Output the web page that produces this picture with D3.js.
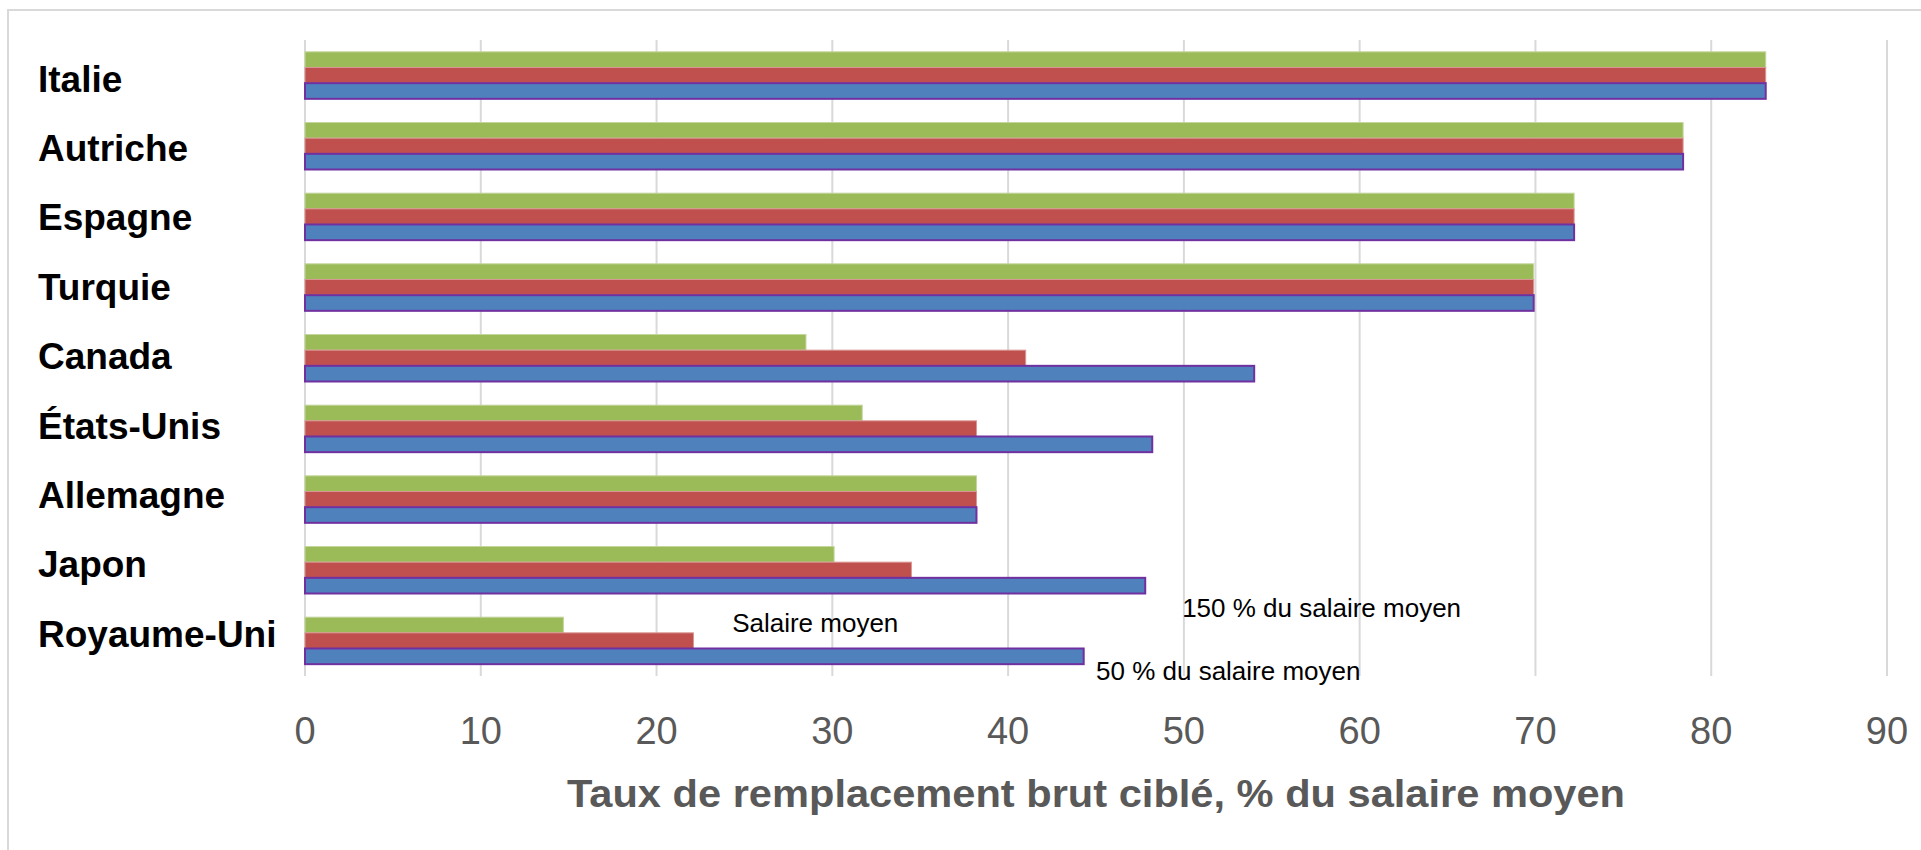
<!DOCTYPE html>
<html lang="fr">
<head>
<meta charset="utf-8">
<style type="text/css">
body { margin: 0; background: #fff; }
svg { display: block; font-family: "Liberation Sans", Arial, sans-serif; }
.grid line { stroke: #d9d9d9; stroke-width: 2px; }
.tick-label { fill: #595959; font-size: 38px; }
.cat-label { fill: #000; font-size: 37px; font-weight: bold; }
.note { fill: #000; font-size: 26px; }
</style>
</head>
<body>
<svg width="1921" height="850"></svg>

<script src="https://d3js.org/d3.v7.min.js"></script>
<script type="text/javascript">
// pays, du haut vers le bas
var countries = ["Italie", "Autriche", "Espagne", "Turquie", "Canada", "États-Unis", "Allemagne", "Japon", "Royaume-Uni"];
// taux de remplacement brut, % du salaire moyen
var taux150 = [83.1, 78.4, 72.2, 69.9, 28.5, 31.7, 38.2, 30.1, 14.7];
var taux100 = [83.1, 78.4, 72.2, 69.9, 41.0, 38.2, 38.2, 34.5, 22.1];
var taux50  = [83.1, 78.4, 72.2, 69.9, 54.0, 48.2, 38.2, 47.8, 44.3];
var seriesNames = ["150 % du salaire moyen", "Salaire moyen", "50 % du salaire moyen"];
var xTicks = [0, 10, 20, 30, 40, 50, 60, 70, 80, 90];
var axisTitle = "Taux de remplacement brut ciblé, % du salaire moyen";

var seriesValues = [taux150, taux100, taux50];
var fills = ["#9bbb59", "#c0504d", "#4f81bd"];
var strokes = ["#c3d69b", "#d99694", "#7030a0"];
var strokeW = [1, 1, 2];

var svg = d3.select("svg");

// cadre gris du graphique (coupé à droite et en bas)
svg.append("rect")
    .attr("x", 8).attr("y", 10)
    .attr("width", 1940).attr("height", 880)
    .attr("fill", "none")
    .attr("stroke", "#d9d9d9")
    .attr("stroke-width", 2);

var plotTop = 40, plotBottom = 676;

var x = d3.scaleLinear().domain([0, 90]).range([305, 1887]);

var y = d3.scaleBand()
    .domain(countries)
    .range([plotTop, plotBottom])
    .paddingInner(0.335)
    .paddingOuter(0.1675);

var ySub = d3.scaleBand()
    .domain(d3.range(seriesNames.length))
    .range([0, y.bandwidth()]);

// quadrillage vertical
svg.append("g").attr("class", "grid")
    .selectAll("line")
    .data(xTicks)
    .enter().append("line")
    .attr("x1", function (d) { return x(d); })
    .attr("x2", function (d) { return x(d); })
    .attr("y1", plotTop)
    .attr("y2", plotBottom);

// barres
var groups = svg.append("g")
    .selectAll("g")
    .data(countries)
    .enter().append("g")
    .attr("transform", function (d) { return "translate(0," + y(d) + ")"; });

groups.selectAll("rect")
    .data(function (d, i) {
        return seriesValues.map(function (vals, s) { return {s: s, v: vals[i]}; });
    })
    .enter().append("rect")
    .attr("x", x(0))
    .attr("y", function (d) { return ySub(d.s); })
    .attr("width", function (d) { return x(d.v) - x(0); })
    .attr("height", ySub.bandwidth())
    .attr("fill", function (d) { return fills[d.s]; })
    .attr("stroke", function (d) { return strokes[d.s]; })
    .attr("stroke-width", function (d) { return strokeW[d.s]; });

// libellés des pays
var yLabel = d3.scalePoint().domain(countries).range([91.7, 646.7]);
svg.append("g")
    .selectAll("text")
    .data(countries)
    .enter().append("text")
    .attr("class", "cat-label")
    .attr("x", 38)
    .attr("y", function (d) { return yLabel(d); })
    .text(function (d) { return d; });

// graduations
svg.append("g")
    .selectAll("text")
    .data(xTicks)
    .enter().append("text")
    .attr("class", "tick-label")
    .attr("x", function (d) { return x(d); })
    .attr("y", 744)
    .attr("text-anchor", "middle")
    .text(function (d) { return d; });

svg.append("text")
    .attr("x", (x(0) + x(90)) / 2)
    .attr("y", 807)
    .attr("text-anchor", "middle")
    .attr("fill", "#595959")
    .attr("textLength", 1058)
    .attr("lengthAdjust", "spacingAndGlyphs")
    .style("font-size", "39px")
    .style("font-weight", "bold")
    .text(axisTitle);

// étiquettes des séries (placées à la main comme dans l'original)
var notePos = [[x(49.9), 616.7], [x(24.3), 631.7], [x(45.0), 680]];
svg.append("g")
    .selectAll("text")
    .data(seriesNames)
    .enter().append("text")
    .attr("class", "note")
    .attr("x", function (d, i) { return notePos[i][0]; })
    .attr("y", function (d, i) { return notePos[i][1]; })
    .text(function (d) { return d; });
</script>
</body>
</html>
